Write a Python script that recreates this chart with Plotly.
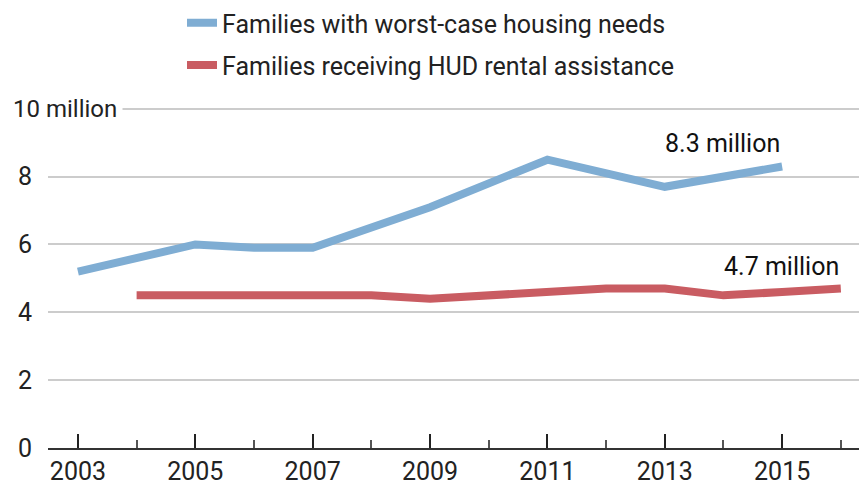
import plotly.graph_objects as go

years_need = [2003, 2005, 2006, 2007, 2009, 2011, 2013, 2015]
worst_case = [5.2, 6.0, 5.9, 5.9, 7.1, 8.5, 7.7, 8.3]

years_hud = [2004, 2005, 2006, 2007, 2008, 2009, 2010, 2011, 2012, 2013, 2014, 2015, 2016]
hud_assist = [4.5, 4.5, 4.5, 4.5, 4.5, 4.4, 4.5, 4.6, 4.7, 4.7, 4.5, 4.6, 4.7]

x_ticks = [2003, 2005, 2007, 2009, 2011, 2013, 2015]
y_ticks = [0, 2, 4, 6, 8, 10]
y_labels = ["0", "2", "4", "6", "8", "10 million"]

FONT = "Roboto"
FS = 25
BLUE = "#7FADD3"
RED = "#C95C62"

fig = go.Figure()
fig.add_trace(go.Scatter(x=years_need, y=worst_case, mode="lines",
                         name="Families with worst-case housing needs",
                         line=dict(color=BLUE, width=8), legend="legend"))
fig.add_trace(go.Scatter(x=years_hud, y=hud_assist, mode="lines",
                         name="Families receiving HUD rental assistance",
                         line=dict(color=RED, width=8), legend="legend2"))

for v, t in zip(y_ticks, y_labels):
    if len(t) <= 1:
        fig.add_annotation(xref="paper", x=0, y=v, yref="y", text=t, showarrow=False,
                           xanchor="right", xshift=-14, font=dict(family=FONT, size=FS, color="#222"))
    else:
        fig.add_annotation(xref="paper", x=0, y=v, yref="y", text=t, showarrow=False,
                           xanchor="left", xshift=-41, bgcolor="white", borderpad=5,
                           font=dict(family=FONT, size=24, color="#222"))

fig.add_annotation(x=years_need[-1], y=worst_case[-1], text=f"{worst_case[-1]} million",
                   showarrow=False, xanchor="right", yanchor="bottom", yshift=6,
                   font=dict(family=FONT, size=FS, color="#111"))
fig.add_annotation(x=years_hud[-1], y=hud_assist[-1], text=f"{hud_assist[-1]} million",
                   showarrow=False, xanchor="right", yanchor="bottom", yshift=6,
                   font=dict(family=FONT, size=FS, color="#111"))

leg_common = dict(xanchor="left", yanchor="middle", font=dict(family=FONT, size=FS, color="#222"),
                  itemwidth=30, bgcolor="rgba(0,0,0,0)", borderwidth=0)

fig.update_layout(
    width=859, height=487,
    margin=dict(l=48, r=0, t=100, b=39),
    plot_bgcolor="white", paper_bgcolor="white",
    font=dict(family=FONT, size=FS, color="#222"),
    showlegend=True,
    legend=dict(x=(182 - 48) / 811, y=(448 - 20) / 348, **leg_common),
    legend2=dict(x=(182 - 48) / 811, y=(448 - 63) / 348, **leg_common),
    xaxis=dict(range=[2002.49, 2016.31], tickvals=x_ticks, ticks="inside", ticklen=14,
               tickwidth=2, tickcolor="#222", showgrid=False, zeroline=False,
               showline=True, linecolor="#333", linewidth=2,
               tickfont=dict(family=FONT, size=FS, color="#222"),
               minor=dict(tick0=2004, dtick=2, ticks="inside", ticklen=8, tickwidth=1.5,
                          tickcolor="#555", showgrid=False)),
    yaxis=dict(range=[0, 10.2], tickvals=y_ticks, showticklabels=False, showgrid=True,
               gridcolor="#CCCCCC", gridwidth=1.5, zeroline=False, ticks=""),
)

fig.write_html("out.html", config={"displayModeBar": False},
               post_script="document.body.style.margin='0';")
